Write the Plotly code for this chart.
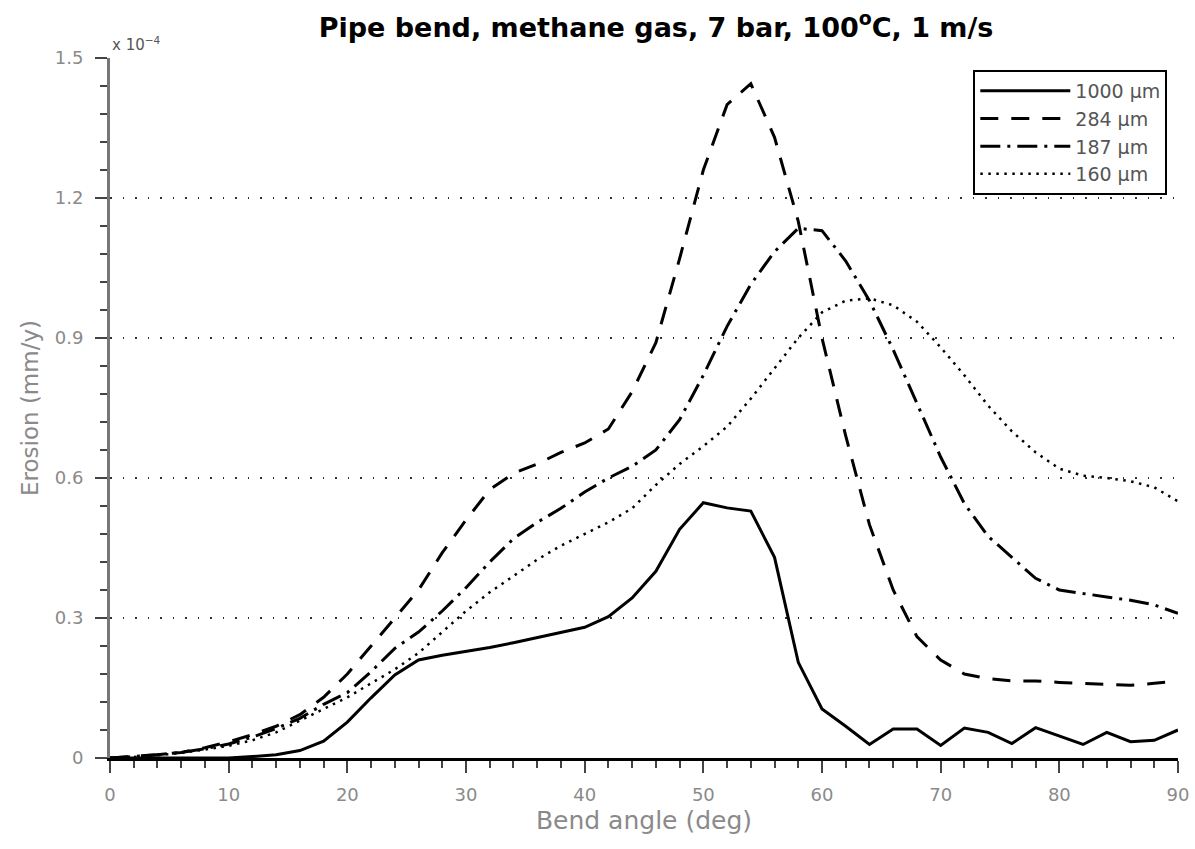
import plotly.graph_objects as go

angles = list(range(0, 92, 2))

erosion_1000 = [0, 0, 0, 0, 0, 0, 0.003, 0.007, 0.016, 0.036, 0.077, 0.129, 0.178, 0.21, 0.22,
                0.228, 0.237, 0.247, 0.258, 0.268, 0.28, 0.303, 0.343, 0.40, 0.49, 0.547, 0.536,
                0.529, 0.43, 0.205, 0.105, 0.068, 0.029, 0.062, 0.062, 0.027, 0.064, 0.055, 0.031,
                0.065, 0.047, 0.029, 0.055, 0.035, 0.038, 0.06]
erosion_284 = [0, 0.003, 0.007, 0.012, 0.022, 0.035, 0.05, 0.068, 0.093, 0.13, 0.18, 0.24, 0.30,
               0.36, 0.44, 0.51, 0.575, 0.61, 0.63, 0.655, 0.675, 0.705, 0.785, 0.89, 1.07, 1.26,
               1.40, 1.445, 1.33, 1.15, 0.90, 0.69, 0.50, 0.36, 0.26, 0.21, 0.18, 0.17, 0.165,
               0.165, 0.162, 0.16, 0.158, 0.156, 0.16, 0.165]
erosion_187 = [0, 0.003, 0.007, 0.012, 0.02, 0.03, 0.045, 0.063, 0.085, 0.115, 0.14, 0.185, 0.235,
               0.27, 0.315, 0.365, 0.42, 0.47, 0.505, 0.535, 0.57, 0.60, 0.625, 0.66, 0.725, 0.82,
               0.925, 1.015, 1.085, 1.135, 1.13, 1.065, 0.98, 0.875, 0.76, 0.645, 0.545, 0.475,
               0.43, 0.385, 0.36, 0.352, 0.345, 0.338, 0.328, 0.31]
erosion_160 = [0, 0.002, 0.006, 0.011, 0.018, 0.026, 0.038, 0.055, 0.08, 0.105, 0.13, 0.16, 0.19,
               0.225, 0.27, 0.315, 0.355, 0.39, 0.425, 0.455, 0.48, 0.505, 0.535, 0.585, 0.63,
               0.668, 0.71, 0.77, 0.835, 0.90, 0.955, 0.98, 0.985, 0.97, 0.935, 0.88, 0.82, 0.755,
               0.70, 0.655, 0.62, 0.605, 0.60, 0.593, 0.58, 0.55]

series_names = ["1000 \u00b5m", "284 \u00b5m", "187 \u00b5m", "160 \u00b5m"]
series_values = [erosion_1000, erosion_284, erosion_187, erosion_160]
series_dash = ["solid", "18px,13px", "20px,7px,3px,7px", "2.5px,5.5px"]
series_width = [3, 3, 3, 2.5]

x_ticks = list(range(0, 100, 10))
x_minor_ticks = list(range(0, 92, 2))
y_ticks = [0, 0.3, 0.6, 0.9, 1.2, 1.5]
y_ticklabels = ["0", "0.3", "0.6", "0.9", "1.2", "1.5"]
y_minor_ticks = [round(i * 0.06, 2) for i in range(26)]

FONT = "DejaVu Sans"
GRAY = "#8a8a8a"
TICKC = "#444444"

fig = go.Figure()
for name, vals, dash, w in zip(series_names, series_values, series_dash, series_width):
    fig.add_trace(go.Scatter(x=angles, y=vals, mode="lines", name=name,
                             line=dict(color="black", width=w, dash=dash)))

fig.update_layout(
    width=1195, height=849,
    margin=dict(l=110, r=17, t=58, b=91),
    paper_bgcolor="white", plot_bgcolor="white",
    font=dict(family=FONT, color=GRAY, size=17),
    title=dict(text="<b>Pipe bend, methane gas, 7 bar, 100<sup>o</sup>C, 1 m/s</b>",
               x=0.549, xanchor="center", y=0.968, yanchor="middle",
               font=dict(family=FONT, size=27, color="black")),
    showlegend=True,
    legend=dict(x=0.99, y=0.983, xanchor="right", yanchor="top",
                bgcolor="white", bordercolor="black", borderwidth=2,
                font=dict(family=FONT, size=19, color="#555555"),
                itemwidth=90, tracegroupgap=0),
    xaxis=dict(range=[0, 90], tickmode="array", tickvals=x_ticks,
               ticks="outside", ticklen=12, tickwidth=2, ticklabelstandoff=6,
               tickcolor=TICKC, showline=True, linecolor="black", linewidth=3,
               showgrid=False, zeroline=False, automargin=False, ticklabeloverflow="allow",
               minor=dict(tickvals=x_minor_ticks, ticks="outside", ticklen=7,
                          tickwidth=2, tickcolor=TICKC, showgrid=False),
               title=dict(text="Bend angle (deg)", font=dict(size=25, color=GRAY), standoff=8),
               tickfont=dict(size=18, color=GRAY)),
    yaxis=dict(range=[0, 1.5], tickmode="array", tickvals=y_ticks, ticktext=y_ticklabels,
               ticks="outside", ticklen=12, tickwidth=2, tickcolor=TICKC, showline=True,
               ticklabelstandoff=8, automargin=False,
               linecolor="#777777", linewidth=3, showgrid=True, gridcolor="#333333",
               griddash="1.5px,11px", gridwidth=2, zeroline=False,
               minor=dict(tickvals=y_minor_ticks, ticks="outside", ticklen=7,
                          tickwidth=2, tickcolor=TICKC, showgrid=False),
               title=dict(text="Erosion (mm/y)", font=dict(size=23, color=GRAY), standoff=10),
               tickfont=dict(size=18, color=GRAY)),
)

fig.add_annotation(x=0, y=1.0, xref="paper", yref="paper", xanchor="left", yanchor="bottom",
                   text="x 10<sup>\u22124</sup>", showarrow=False, yshift=2,
                   font=dict(family=FONT, size=15, color="#555555"))

fig.write_html("out.html")
